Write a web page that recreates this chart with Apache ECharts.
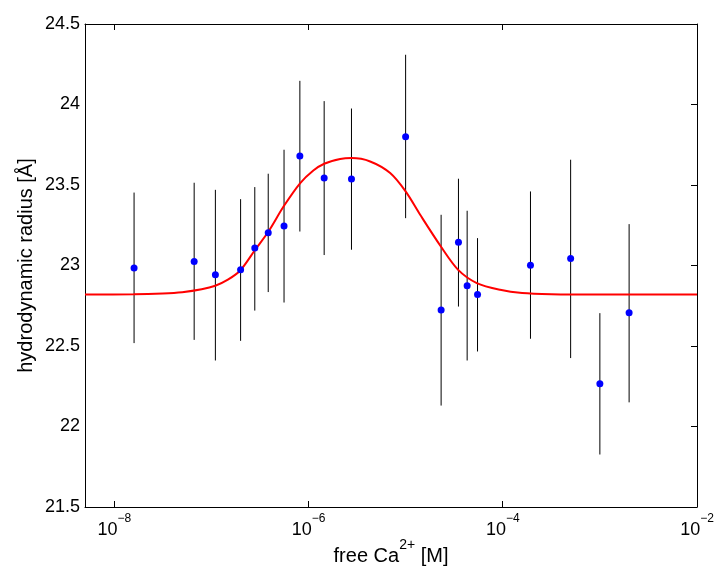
<!DOCTYPE html>
<html>
<head>
<meta charset="utf-8">
<script src="https://cdn.jsdelivr.net/npm/echarts@6/dist/echarts.min.js"></script>
<style>
  html, body { margin: 0; padding: 0; background: #fff; }
  #chart { width: 715px; height: 567px; }
</style>
</head>
<body>
<div id="chart"></div>
<script>
// ---- data ----
// free Ca2+ concentration [M]
const caConc = [1.6e-8, 6.65e-8, 1.1e-7, 2.0e-7, 2.8e-7, 3.85e-7, 5.6e-7, 8.15e-7, 1.45e-6, 2.77e-6,
                1.0e-5, 2.32e-5, 3.5e-5, 4.3e-5, 5.5e-5, 1.93e-4, 5.0e-4, 1.0e-3, 2.0e-3];
// hydrodynamic radius [Å]
const radius = [22.984, 23.025, 22.942, 22.973, 23.108, 23.203, 23.245, 23.68, 23.543, 23.537,
                23.80, 22.723, 23.145, 22.874, 22.82, 23.002, 23.044, 22.265, 22.706];
// error bar lower / upper ends
const errLow  = [22.518, 22.538, 22.41, 22.532, 22.72, 22.835, 22.77, 23.211, 23.065, 23.098,
                 23.294, 22.13, 22.745, 22.41, 22.466, 22.545, 22.425, 21.826, 22.15];
const errHigh = [23.453, 23.514, 23.47, 23.412, 23.487, 23.57, 23.719, 24.147, 24.021, 23.975,
                 24.309, 23.315, 23.539, 23.34, 23.17, 23.46, 23.657, 22.704, 23.257];
// fitted curve (log10 of concentration, radius)
const fitLogConc = [-8.301, -7.8, -7.5, -7.3, -7.1, -6.96, -6.83, -6.703, -6.549, -6.412, -6.257,
                    -6.085, -5.95, -5.838, -5.674, -5.557, -5.365, -5.159, -5.0, -4.85, -4.637,
                    -4.459, -4.267, -4.027, -3.8, -3.5, -3.0, -2.0];
const fitRadius  = [22.82, 22.821, 22.826, 22.834, 22.852, 22.874, 22.912, 22.969, 23.098, 23.211, 23.366,
                    23.512, 23.59, 23.632, 23.661, 23.667, 23.646, 23.574, 23.46, 23.315, 23.118,
                    22.973, 22.891, 22.849, 22.829, 22.822, 22.82, 22.82];
// axis ticks
const xTickExponents = [-8, -6, -4, -2];
const xMinConc = 5e-9, xMaxConc = 1e-2;
const yMin = 21.5, yMax = 24.5, yStep = 0.5;

// ---- build chart ----
const FONT = '"Liberation Sans", Arial, Helvetica, sans-serif';
const xMin = Math.log10(xMinConc), xMax = Math.log10(xMaxConc);
const pts = caConc.map((c, i) => [Math.log10(c), radius[i]]);
const bars = caConc.map((c, i) => [Math.log10(c), errLow[i], errHigh[i]]);
const fit = fitLogConc.map((l, i) => [l, fitRadius[i]]);

const axisLine = { show: true, onZero: false, lineStyle: { color: '#000', width: 1 } };
const chart = echarts.init(document.getElementById('chart'), null, { renderer: 'canvas' });

const supFmt = v => '{b|10}{s|' + (v < 0 ? '\u2212' : '') + Math.abs(Math.round(v)) + '}';

chart.setOption({
  animation: false,
  backgroundColor: '#fff',
  grid: { left: 85, right: 18, top: 24, bottom: 60, containLabel: false, outerBoundsMode: 'none' },
  xAxis: [
    {
      type: 'value', position: 'bottom', min: xMin, max: xMax,
      axisLine: axisLine,
      splitLine: { show: false },
      axisTick: { show: true, inside: true, length: 6, customValues: xTickExponents, lineStyle: { color: '#000' } },
      axisLabel: {
        show: true, customValues: xTickExponents, margin: 6,
        formatter: supFmt, color: '#000',
        rich: {
          b: { fontFamily: FONT, fontSize: 18, color: '#000', lineHeight: 26, verticalAlign: 'bottom' },
          s: { fontFamily: FONT, fontSize: 12, color: '#000', verticalAlign: 'top' }
        }
      },
      name: '{a|free Ca}{s|2+}{a| [M]}',
      nameLocation: 'middle', nameGap: 31, nameMoveOverlap: false,
      nameTextStyle: {
        verticalAlign: 'top',
        rich: {
          a: { fontFamily: FONT, fontSize: 20, color: '#000', lineHeight: 28, verticalAlign: 'bottom' },
          s: { fontFamily: FONT, fontSize: 14, color: '#000', verticalAlign: 'top' }
        }
      }
    },
    {
      type: 'value', position: 'top', min: xMin, max: xMax,
      axisLine: axisLine,
      splitLine: { show: false },
      axisTick: { show: true, inside: true, length: 6, customValues: xTickExponents, lineStyle: { color: '#000' } },
      axisLabel: { show: false }
    }
  ],
  yAxis: [
    {
      type: 'value', position: 'left', min: yMin, max: yMax, interval: yStep,
      axisLine: axisLine,
      splitLine: { show: false },
      axisTick: { show: false },
      axisLabel: { show: true, margin: 5, fontFamily: FONT, fontSize: 18, color: '#000' },
      name: 'hydrodynamic radius [Å]',
      nameLocation: 'middle', nameGap: 49, nameRotate: 90, nameMoveOverlap: false,
      nameTextStyle: { fontFamily: FONT, fontSize: 20, color: '#000' }
    },
    {
      type: 'value', position: 'right', min: yMin, max: yMax, interval: yStep,
      axisLine: axisLine,
      splitLine: { show: false },
      axisTick: { show: true, inside: true, length: 6, lineStyle: { color: '#000' } },
      axisLabel: { show: false }
    }
  ],
  series: [
    {
      type: 'custom', name: 'error', xAxisIndex: 0, yAxisIndex: 0, z: 1,
      data: bars,
      encode: { x: 0, y: [1, 2] },
      renderItem: function (params, api) {
        const x = api.value(0);
        const p1 = api.coord([x, api.value(1)]);
        const p2 = api.coord([x, api.value(2)]);
        return {
          type: 'line',
          shape: { x1: p1[0], y1: p1[1], x2: p2[0], y2: p2[1] },
          style: { stroke: '#000', lineWidth: 1 }
        };
      },
      silent: true
    },
    {
      type: 'line', name: 'fit', z: 2,
      data: fit, smooth: 0.3, showSymbol: false, symbol: 'none',
      lineStyle: { color: '#ff0000', width: 2 }
    },
    {
      type: 'scatter', name: 'data', z: 3,
      data: pts, symbol: 'circle', symbolSize: 7,
      itemStyle: { color: '#0000ff', opacity: 1 }
    }
  ]
});
</script>
</body>
</html>
